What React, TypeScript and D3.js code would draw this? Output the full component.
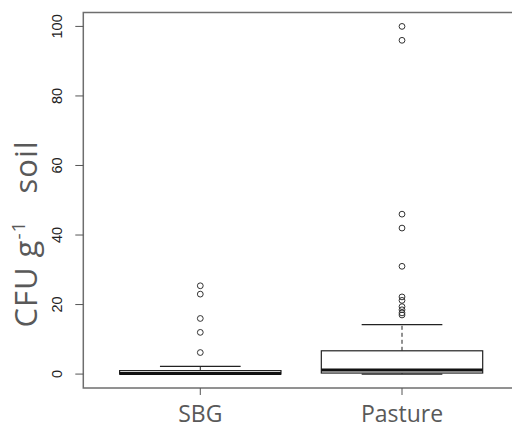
import React from "react";
import * as d3 from "d3";

const categories = ["SBG", "Pasture"];
const whiskerLow = [0, 0];
const q1 = [0, 0.3];
const medians = [0.2, 1.2];
const q3 = [1.0, 6.7];
const whiskerHigh = [2.2, 14.2];
const outliers = [
  [25.4, 23, 16, 12, 6.2],
  [100, 96, 46, 42, 31, 22.2, 21.2, 19.4, 18.5, 17.6, 17],
];
const yTicks = [0, 20, 40, 60, 80, 100];

const W = 512;
const H = 432;
const left = 83.3;
const top = 12.5;
const bottom = 388;
const right = 519;

export default function App() {
  const y = d3.scaleLinear().domain([-4, 104]).range([bottom, top]);
  const x = d3.scaleLinear().domain([0.42, 2.58]).range([left, right]);
  const boxHalf = x(1.4) - x(1);
  const stapleHalf = boxHalf / 2;
  const axisColor = "#6e6e6e";
  return (
    <svg
      width={W}
      height={H}
      style={{ position: "fixed", left: 0, top: 0, background: "#fff" }}
    >
      <rect x={0} y={0} width={W} height={H} fill="#fff" />
      <rect
        x={left}
        y={top}
        width={right - left}
        height={bottom - top}
        fill="none"
        stroke={axisColor}
        strokeWidth={1.5}
      />
      {yTicks.map((t) => (
        <g key={t}>
          <line x1={left - 8} x2={left} y1={y(t)} y2={y(t)} stroke="#555" strokeWidth={1} />
          <text
            transform={`translate(61.5,${y(t)}) rotate(-90)`}
            textAnchor="middle"
            fontFamily="'Liberation Sans', Arial, sans-serif"
            fontSize={14.5}
            fill="#222"
          >
            {t}
          </text>
        </g>
      ))}
      {categories.map((c, i) => (
        <g key={c}>
          <line x1={x(i + 1)} x2={x(i + 1)} y1={bottom} y2={bottom + 7} stroke="#555" strokeWidth={1} />
          <text
            x={x(i + 1)}
            y={421.5}
            textAnchor="middle"
            fontFamily="'Open Sans', sans-serif"
            fontSize={23}
            fill="#595959"
          >
            {c}
          </text>
        </g>
      ))}
      <text
        transform={`translate(36.5,${234}) rotate(-90)`}
        textAnchor="middle"
        fontFamily="'Open Sans', sans-serif"
        fontSize={31}
        fill="#595959"
        letterSpacing={1}
        xmlSpace="preserve"
      >
        <tspan>CFU g</tspan>
        <tspan dy={-12} fontSize={19}>-1</tspan>
        <tspan dy={12}>{"   soil"}</tspan>
      </text>
      {categories.map((c, i) => {
        const cx = x(i + 1);
        return (
          <g key={"b" + c}>
            <line
              x1={cx}
              x2={cx}
              y1={y(q3[i])}
              y2={y(whiskerHigh[i])}
              stroke="#222"
              strokeWidth={1}
              strokeDasharray="4,3"
            />
            <line
              x1={cx}
              x2={cx}
              y1={y(q1[i])}
              y2={y(whiskerLow[i])}
              stroke="#222"
              strokeWidth={1}
              strokeDasharray="4,3"
            />
            <line
              x1={cx - stapleHalf}
              x2={cx + stapleHalf}
              y1={y(whiskerHigh[i])}
              y2={y(whiskerHigh[i])}
              stroke="#222"
              strokeWidth={1.3}
            />
            <line
              x1={cx - stapleHalf}
              x2={cx + stapleHalf}
              y1={y(whiskerLow[i])}
              y2={y(whiskerLow[i])}
              stroke="#222"
              strokeWidth={1.3}
            />
            <rect
              x={cx - boxHalf}
              y={y(q3[i])}
              width={2 * boxHalf}
              height={y(q1[i]) - y(q3[i])}
              fill="#fff"
              stroke="#222"
              strokeWidth={1.2}
            />
            <line
              x1={cx - boxHalf}
              x2={cx + boxHalf}
              y1={y(medians[i])}
              y2={y(medians[i])}
              stroke="#111"
              strokeWidth={3}
            />
            {outliers[i].map((v, k) => (
              <circle
                key={k}
                cx={cx}
                cy={y(v)}
                r={2.9}
                fill="none"
                stroke="#333"
                strokeWidth={1}
              />
            ))}
          </g>
        );
      })}
    </svg>
  );
}
